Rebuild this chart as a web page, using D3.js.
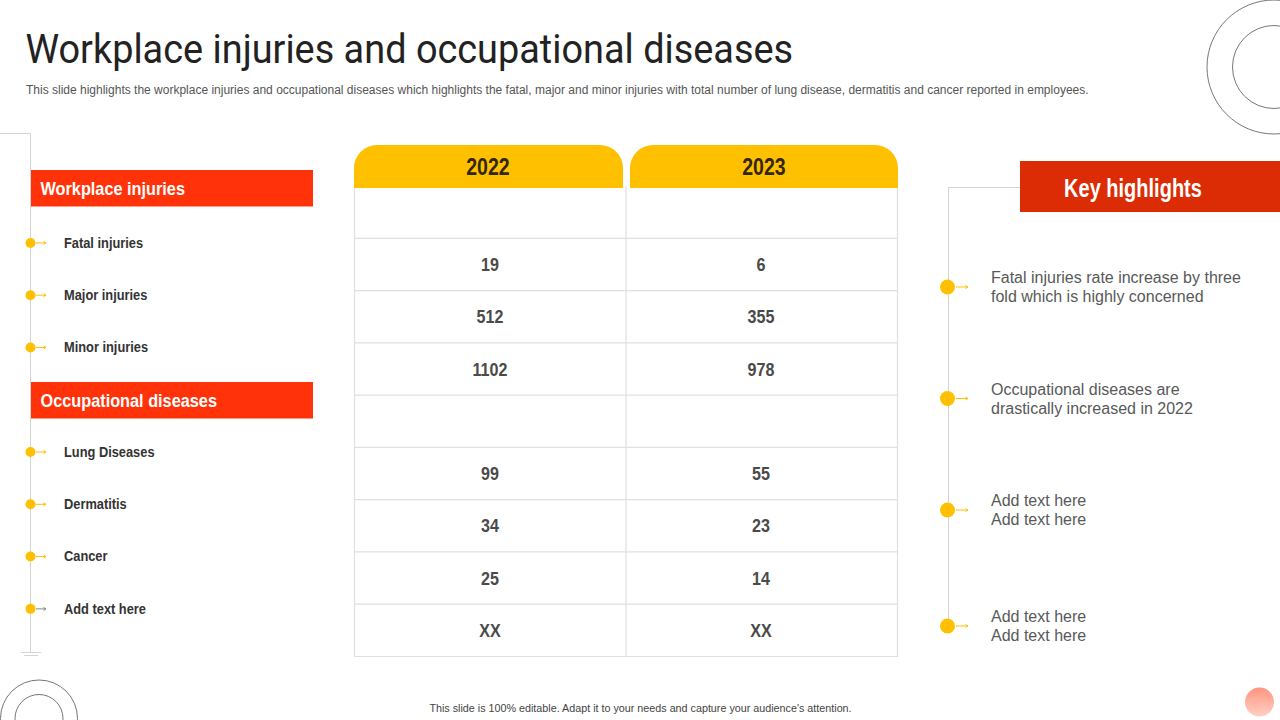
<!DOCTYPE html>
<html>
<head>
    <meta charset="utf-8" />
    <title>Workplace injuries and occupational diseases</title>
    <style>
        html, body { margin: 0; padding: 0; background: #fff; overflow: hidden; }
        svg { display: block; }
        .narrow { font-family: "Liberation Sans", sans-serif; font-weight: bold; }
        .arial { font-family: "Liberation Sans", sans-serif; }
    </style>
</head>
<body>
    <script src="https://d3js.org/d3.v7.min.js"></script>
    <script>

        var width = 1280, height = 720;

        const titleText = "Workplace injuries and occupational diseases";
        const subtitleText = "This slide highlights the workplace injuries and occupational diseases which highlights the fatal, major and minor injuries with total number of lung disease, dermatitis and cancer reported in employees.";
        const footerText = "This slide is 100% editable.  Adapt it to your needs and capture your audience's attention.";
        const years = ["2022", "2023"];
        const rowLabels = ["Workplace injuries", "Fatal injuries", "Major injuries", "Minor injuries", "Occupational diseases", "Lung Diseases", "Dermatitis", "Cancer", "Add text here"];
        const sectionLabels = ["Workplace injuries", "Occupational diseases"];
        const values2022 = ["", "19", "512", "1102", "", "99", "34", "25", "XX"];
        const values2023 = ["", "6", "355", "978", "", "55", "23", "14", "XX"];
        const highlightsTitle = "Key highlights";
        const highlights = [
            ["Fatal injuries rate increase by three", "fold which is highly concerned"],
            ["Occupational diseases are", "drastically increased in 2022"],
            ["Add text here", "Add text here"],
            ["Add text here", "Add text here"]
        ];

        const yellow = "#ffc000", red = "#ff3209", darkRed = "#dc2c05", grid = "#e0e0e0";

        // no condensed face is installed, so squeeze the glyphs to the slide's widths
        function squeeze(sel, k) {
            sel.attr("lengthAdjust", "spacingAndGlyphs")
                .attr("textLength", function () { return this.getComputedTextLength() * k; });
        }

        const svg = d3.select("body").append("svg")
            .attr("width", width)
            .attr("height", height);

        const defs = svg.append("defs");
        const grad = defs.append("linearGradient").attr("id", "ball").attr("x1", 0).attr("y1", 0).attr("x2", 0).attr("y2", 1);
        grad.append("stop").attr("offset", "0%").attr("stop-color", "#ff9580");
        grad.append("stop").attr("offset", "100%").attr("stop-color", "#ffd0c4");

        // heading
        svg.append("text").attr("x", 25.5).attr("y", 62.5)
            .attr("font-family", "Roboto").attr("font-size", 40.5).attr("fill", "#222")
            .text(titleText).call(squeeze, 0.935);
        svg.append("text").attr("class", "arial").attr("x", 26).attr("y", 94)
            .attr("font-size", 12).attr("fill", "#555")
            .text(subtitleText);
        svg.append("text").attr("class", "arial").attr("x", 640.5).attr("y", 712)
            .attr("text-anchor", "middle").attr("font-size", 10.75).attr("fill", "#444")
            .text(footerText);

        // decorative rings and ball
        const rings = [[1274, 67, 67], [1274, 67, 41.5], [39, 718.5, 38.5], [39, 718.5, 24]];
        svg.selectAll(".ring").data(rings).join("circle").attr("class", "ring")
            .attr("cx", d => d[0]).attr("cy", d => d[1]).attr("r", d => d[2])
            .attr("fill", "none").attr("stroke", "#777").attr("stroke-width", 1);
        svg.append("circle").attr("cx", 1259.5).attr("cy", 702).attr("r", 14.5).attr("fill", "url(#ball)");

        // table
        const x = d3.scaleBand().domain(years).range([354, 898]);
        const y = d3.scaleBand().domain(rowLabels).range([186, 656.5]);
        const table = svg.append("g");

        table.selectAll(".hline").data(rowLabels.slice(1)).join("line").attr("class", "hline")
            .attr("x1", x.range()[0]).attr("x2", x.range()[1])
            .attr("y1", d => y(d)).attr("y2", d => y(d))
            .attr("stroke", grid).attr("stroke-width", 1.2);
        table.append("line")
            .attr("x1", x.range()[0]).attr("x2", x.range()[1])
            .attr("y1", y.range()[1]).attr("y2", y.range()[1])
            .attr("stroke", grid).attr("stroke-width", 1.2);
        table.selectAll(".vline").data([354.5, 626, 897.5]).join("line").attr("class", "vline")
            .attr("x1", d => d).attr("x2", d => d)
            .attr("y1", y.range()[0]).attr("y2", y.range()[1])
            .attr("stroke", grid).attr("stroke-width", 1.2);

        // header tabs: flat bottom, round top
        const tabPath = (x0, x1) => {
            const top = 145, bottom = 188, r = 23;
            return `M${x0},${bottom}V${top + r}A${r},${r} 0 0 1 ${x0 + r},${top}H${x1 - r}A${r},${r} 0 0 1 ${x1},${top + r}V${bottom}Z`;
        };
        const tabs = table.selectAll(".tab").data(years).join("g").attr("class", "tab");
        tabs.append("path")
            .attr("d", d => d === years[0] ? tabPath(x(d), x(d) + x.bandwidth() - 3) : tabPath(x(d) + 4, x(d) + x.bandwidth()))
            .attr("fill", yellow);
        tabs.append("text").attr("class", "narrow")
            .attr("x", d => x(d) + x.bandwidth() / 2 + (d === years[0] ? -2 : 2))
            .attr("y", 167).attr("dy", "0.35em")
            .attr("text-anchor", "middle").attr("font-size", 23).attr("fill", "#33270a")
            .text(d => d).call(squeeze, 0.85);

        [values2022, values2023].forEach((vals, i) => {
            table.append("g").selectAll("text").data(vals).join("text").attr("class", "narrow")
                .attr("x", x(years[i]) + x.bandwidth() / 2 - i)
                .attr("y", (d, k) => y(rowLabels[k]) + y.bandwidth() / 2 + 0.5)
                .attr("dy", "0.35em")
                .attr("text-anchor", "middle").attr("font-size", 17.5).attr("fill", "#4a4a4a")
                .text(d => d).call(squeeze, 0.92);
        });

        // left side list, sits one notch above the table rows
        const listY = d => y(d) + y.bandwidth() / 2 - 22;
        const sectionTop = d3.scaleOrdinal().domain(sectionLabels).range([170, 382]);
        const sectionHeight = 36.5;
        const left = svg.append("g");
        left.append("path").attr("d", "M0,133.5H30.5V652").attr("fill", "none").attr("stroke", "#d4d4d4");
        left.append("path").attr("d", "M21,652.5H41M24,655.5H38").attr("fill", "none").attr("stroke", "#d4d4d4");

        const sections = left.selectAll(".section").data(sectionLabels).join("g").attr("class", "section");
        sections.append("rect")
            .attr("x", 31).attr("width", 282)
            .attr("y", d => sectionTop(d)).attr("height", sectionHeight)
            .attr("fill", red);
        sections.append("text").attr("class", "narrow")
            .attr("x", 40.5).attr("y", d => sectionTop(d) + sectionHeight / 2).attr("dy", "0.35em")
            .attr("font-size", 18.5).attr("fill", "#fff")
            .text(d => d).call(squeeze, 0.88);

        const items = left.selectAll(".item").data(rowLabels.filter(d => !sectionLabels.includes(d))).join("g").attr("class", "item");
        items.append("circle").attr("cx", 30.5).attr("cy", d => listY(d) + 0.5).attr("r", 5).attr("fill", yellow);
        const itemColor = d => d === "Add text here" ? "#888" : yellow;
        items.append("path")
            .attr("d", d => `M36,${listY(d) + 0.5}H46M43.5,${listY(d) - 1}L46,${listY(d) + 0.5}L43.5,${listY(d) + 2}`)
            .attr("fill", "none").attr("stroke", itemColor);
        items.append("text").attr("class", "narrow")
            .attr("x", 64).attr("y", listY).attr("dy", "0.35em")
            .attr("font-size", 15).attr("fill", "#333")
            .text(d => d).call(squeeze, 0.855);

        // right side highlights
        const hlY = d3.scaleOrdinal().domain(d3.range(highlights.length)).range([287, 398.5, 510, 626]);
        const right = svg.append("g");
        right.append("path").attr("d", "M1020,187.5H948.5V626").attr("fill", "none").attr("stroke", "#d4d4d4");
        right.append("rect").attr("x", 1020).attr("y", 161).attr("width", 260).attr("height", 51).attr("fill", darkRed);
        right.append("text").attr("class", "narrow")
            .attr("x", 1133).attr("y", 188).attr("dy", "0.35em")
            .attr("text-anchor", "middle").attr("font-size", 25).attr("fill", "#fff")
            .text(highlightsTitle).call(squeeze, 0.8);

        const notes = right.selectAll(".note").data(highlights).join("g").attr("class", "note");
        notes.append("circle").attr("cx", 947.5).attr("cy", (d, i) => hlY(i)).attr("r", 7.5).attr("fill", yellow);
        notes.append("path")
            .attr("d", (d, i) => `M956,${hlY(i)}H968M965.5,${hlY(i) - 1.5}L968,${hlY(i)}L965.5,${hlY(i) + 1.5}`)
            .attr("fill", "none").attr("stroke", yellow);
        notes.each(function (d, i) {
            d3.select(this).selectAll("text").data(d).join("text").attr("class", "arial")
                .attr("x", 991)
                .attr("y", (t, k) => hlY(i) + (k === 0 ? -9.5 : 9.5)).attr("dy", "0.35em")
                .attr("font-size", 16).attr("fill", "#595959")
                .text(t => t);
        });

    </script>
</body>
</html>
